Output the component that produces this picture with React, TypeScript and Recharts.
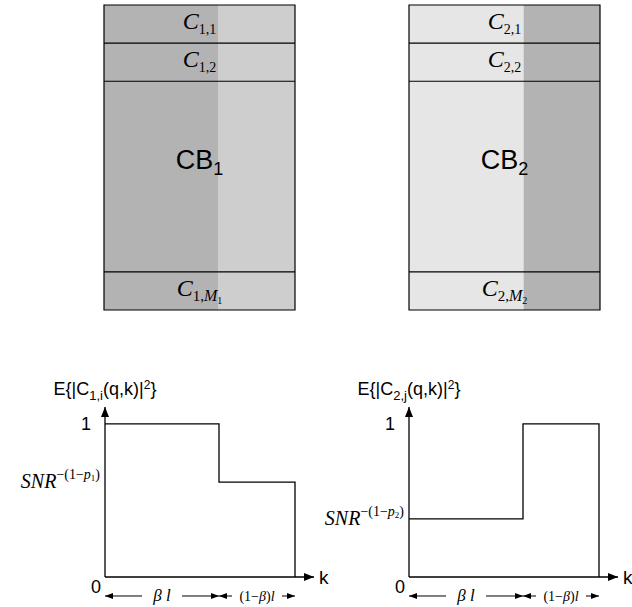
import React from 'react';
import { ComposedChart, Line, XAxis, YAxis, ReferenceArea, ReferenceLine } from 'recharts';

const SERIF = '"Liberation Serif", "Times New Roman", serif';
const SANS = '"Liberation Sans", Arial, Helvetica, sans-serif';

// fraction of the band given to the first part (beta)
const BETA = 0.6;

// code block rows, in row units (top to bottom)
const rowEdges = [0, 1, 2, 7, 8];
const rowKinds = ['j1', 'j2', 'cb', 'M'];

// received power per sub-carrier k (normalised to l)
const kBreaks = [0, BETA, 1];
const power1 = [1, 0.62, 0];
const power2 = [0.38, 1, 0];
const yTicks1 = [0, 0.62, 1];
const yTicks2 = [0, 0.38, 1];

const spans = [
  { from: 0, to: BETA, label: 'beta' },
  { from: BETA, to: 1, label: 'rest' },
];

const RowLabel = (props: any) => {
  const { viewBox, block, kind } = props;
  const cx = viewBox.x + viewBox.width / 2;
  const cy = viewBox.y + viewBox.height / 2;
  if (kind === 'M') {
    return (
      <text x={cx} y={cy + 5} textAnchor="middle" fontFamily={SERIF} fill="#000">
        <tspan fontStyle="italic" fontSize={24}>C</tspan>
        <tspan fontSize={15} dy={5}>{`${block},`}</tspan>
        <tspan fontSize={16} fontStyle="italic">M</tspan>
        <tspan fontSize={10} dy={3}>{block}</tspan>
      </text>
    );
  }
  return (
    <text x={cx} y={cy + 5} textAnchor="middle" fontFamily={SERIF} fill="#000">
      <tspan fontStyle="italic" fontSize={24}>C</tspan>
      <tspan fontSize={14} dy={5}>{`${block},${kind === 'j1' ? 1 : 2}`}</tspan>
    </text>
  );
};

const CBLabel = (props: any) => {
  const { viewBox, block } = props;
  const cx = viewBox.x + viewBox.width / 2;
  const cy = viewBox.y + viewBox.height / 2;
  return (
    <text x={cx} y={cy + 11} textAnchor="middle" fontFamily={SANS} fill="#000">
      <tspan fontSize={27}>CB</tspan>
      <tspan fontSize={18} dy={6}>{block}</tspan>
    </text>
  );
};

function CodeBlock({ block, left, leftFill, rightFill }: any) {
  const data = rowEdges.map((r) => ({ k: 0, row: r }));
  const last = rowEdges[rowEdges.length - 1];
  return (
    <div style={{ position: 'absolute', left, top: 3 }}>
      <ComposedChart width={195} height={309} margin={{ top: 2, right: 2, bottom: 2, left: 2 }} data={data}>
        <XAxis type="number" dataKey="k" domain={[0, 1]} hide />
        <YAxis type="number" dataKey="row" domain={[0, last]} reversed hide />
        <ReferenceArea x1={0} x2={BETA} y1={0} y2={last} fill={leftFill} fillOpacity={1} stroke="none" />
        <ReferenceArea x1={BETA} x2={1} y1={0} y2={last} fill={rightFill} fillOpacity={1} stroke="none" />
        {rowEdges.slice(1, -1).map((r) => (
          <ReferenceLine key={r} y={r} stroke="#000" strokeWidth={1.2} />
        ))}
        <ReferenceArea
          x1={0}
          x2={1}
          y1={0}
          y2={last}
          fill="none"
          stroke="#000"
          strokeWidth={1.2}
          label={<CBLabel block={block} />}
        />
        {rowKinds.map((kind, i) =>
          kind === 'cb' ? null : (
            <ReferenceArea
              key={kind}
              x1={0}
              x2={1}
              y1={rowEdges[i]}
              y2={rowEdges[i + 1]}
              fill="none"
              stroke="none"
              label={<RowLabel block={block} kind={kind} />}
            />
          )
        )}
      </ComposedChart>
    </div>
  );
}

const PowerTick = (props: any) => {
  const { x, y, payload, block } = props;
  const v = payload.value;
  if (v === 0) {
    return (
      <text x={x - 4} y={y + 16} textAnchor="end" fontFamily={SANS} fontSize={18} fill="#000">0</text>
    );
  }
  if (v === 1) {
    return (
      <text x={x - 14} y={y + 6} textAnchor="end" fontFamily={SANS} fontSize={18} fill="#000">1</text>
    );
  }
  return (
    <text x={x - 5} y={y + 6} textAnchor="end" fontFamily={SERIF} fill="#000">
      <tspan fontStyle="italic" fontSize={20}>SNR</tspan>
      <tspan fontSize={14} dy={-9}>{'\u2212(1\u2212'}</tspan>
      <tspan fontSize={14} fontStyle="italic">p</tspan>
      <tspan fontSize={9} dy={2}>{block}</tspan>
      <tspan fontSize={14} dy={-2}>)</tspan>
    </text>
  );
};

const ELabel = (props: any) => {
  const { viewBox, block, idx } = props;
  const x = viewBox.x + viewBox.width;
  return (
    <text x={x} y={viewBox.y - 12} textAnchor="middle" fontFamily={SANS} fill="#000">
      <tspan fontSize={18}>{'E{|C'}</tspan>
      <tspan fontSize={13} dy={5}>{`${block},${idx}`}</tspan>
      <tspan fontSize={18} dy={-5}>{'(q,k)|'}</tspan>
      <tspan fontSize={12} dy={-6}>2</tspan>
      <tspan fontSize={18} dy={6}>{'}'}</tspan>
    </text>
  );
};

const KLabel = (props: any) => {
  const { viewBox } = props;
  return (
    <text x={viewBox.x + viewBox.width + 5} y={viewBox.y + 7} fontFamily={SANS} fontSize={19} fill="#000">k</text>
  );
};

const SpanLabel = (props: any) => {
  const { viewBox, kind } = props;
  const cx = viewBox.x + viewBox.width / 2;
  const cy = viewBox.y;
  const w = kind === 'beta' ? 40 : 50;
  return (
    <g>
      <rect x={cx - w / 2} y={cy - 8} width={w} height={16} fill="#fff" />
      {kind === 'beta' ? (
        <text x={cx} y={cy + 5} textAnchor="middle" fontFamily={SERIF} fontSize={17} fontStyle="italic" fill="#000">
          {'\u03b2 l'}
        </text>
      ) : (
        <text x={cx} y={cy + 5} textAnchor="middle" fontFamily={SERIF} fontSize={14} fill="#000">
          <tspan>{'(1\u2212'}</tspan>
          <tspan fontStyle="italic">{'\u03b2'}</tspan>
          <tspan>)</tspan>
          <tspan fontStyle="italic">l</tspan>
        </text>
      )}
    </g>
  );
};

function PowerPlot({ block, idx, left, width, power, ticks }: any) {
  const data = kBreaks.map((k, i) => ({ k, p: power[i] }));
  const ax = `ax${block}`;
  const sp = `sp${block}`;
  return (
    <div style={{ position: 'absolute', left, top: 360 }}>
      <ComposedChart width={width} height={247} margin={{ top: 47, right: width - 314, bottom: 0, left: 0 }} data={data}>
        <defs>
          <marker id={ax} markerWidth={10} markerHeight={8} refX={10} refY={4} orient="auto-start-reverse" markerUnits="userSpaceOnUse">
            <path d="M0,0 L10,4 L0,8 z" fill="#000" />
          </marker>
          <marker id={sp} markerWidth={8} markerHeight={6} refX={8} refY={3} orient="auto-start-reverse" markerUnits="userSpaceOnUse">
            <path d="M0,0 L8,3 L0,6 z" fill="#000" />
          </marker>
        </defs>
        <XAxis
          type="number"
          dataKey="k"
          domain={[0, 1.1]}
          tick={false}
          tickLine={false}
          height={30}
          axisLine={{ stroke: '#000', strokeWidth: 1.3, markerEnd: `url(#${ax})` }}
          label={<KLabel />}
        />
        <YAxis
          type="number"
          domain={[0, 1.11]}
          ticks={ticks}
          tick={<PowerTick block={block} />}
          tickLine={false}
          tickSize={0}
          tickMargin={0}
          width={105}
          axisLine={{ stroke: '#000', strokeWidth: 1.3, markerStart: `url(#${ax})` }}
          label={<ELabel block={block} idx={idx} />}
        />
        <Line type="stepAfter" dataKey="p" stroke="#000" strokeWidth={1.3} dot={false} isAnimationActive={false} />
        {spans.map((s) => (
          <ReferenceLine
            key={s.label}
            segment={[
              { x: s.from, y: -0.124 },
              { x: s.to, y: -0.124 },
            ]}
            ifOverflow="visible"
            stroke="#000"
            strokeWidth={1}
            markerStart={`url(#${sp})`}
            markerEnd={`url(#${sp})`}
            label={<SpanLabel kind={s.label} />}
          />
        ))}
      </ComposedChart>
    </div>
  );
}

export default function App() {
  return (
    <div style={{ position: 'absolute', left: 0, top: 0, width: 632, height: 607, background: '#fff' }}>
      <CodeBlock block={1} left={102} leftFill="#b3b3b3" rightFill="#cecece" />
      <CodeBlock block={2} left={407} leftFill="#e6e6e6" rightFill="#b3b3b3" />
      <PowerPlot block={1} idx="i" left={0} width={340} power={power1} ticks={yTicks1} />
      <PowerPlot block={2} idx="j" left={304} width={328} power={power2} ticks={yTicks2} />
    </div>
  );
}
